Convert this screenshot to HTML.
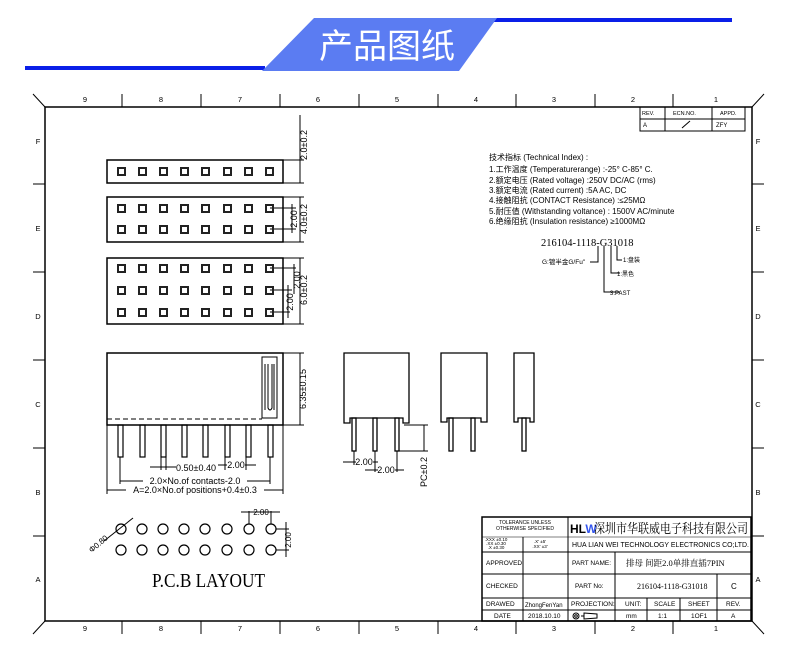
<!DOCTYPE html>
<html><head><meta charset="utf-8"><style>
html,body{margin:0;padding:0;background:#fff;}
svg{display:block;}
text{font-family:"Liberation Sans","Noto Sans CJK SC",sans-serif;fill:#000;}
.s{font-family:"Liberation Serif","Noto Serif CJK SC",serif;}
</style></head><body>
<svg width="790" height="663" viewBox="0 0 790 663" xmlns="http://www.w3.org/2000/svg">
<!-- header -->
<rect x="25" y="66" width="240" height="4" fill="#0a1fe8"/>
<rect x="492" y="18" width="240" height="4" fill="#0a1fe8"/>
<polygon points="314,18 497,18 459,71 262,71" fill="#5b7cf2"/>
<text x="387" y="58" font-size="34" text-anchor="middle" style="fill:#fff;font-family:'Noto Sans CJK SC',sans-serif;">产品图纸</text>

<g stroke="#000" fill="none" stroke-width="1">
<!-- frame -->
<rect x="45" y="107" width="707" height="514" stroke-width="1.5"/>
<line x1="33" y1="94" x2="45" y2="107"/><line x1="764" y1="94" x2="752" y2="107"/>
<line x1="33" y1="634" x2="45" y2="621"/><line x1="764" y1="634" x2="752" y2="621"/>
<g>
<line x1="122" y1="94" x2="122" y2="107"/><line x1="201" y1="94" x2="201" y2="107"/><line x1="280" y1="94" x2="280" y2="107"/><line x1="359" y1="94" x2="359" y2="107"/><line x1="438" y1="94" x2="438" y2="107"/><line x1="516" y1="94" x2="516" y2="107"/><line x1="595" y1="94" x2="595" y2="107"/><line x1="673" y1="94" x2="673" y2="107"/>
<line x1="122" y1="621" x2="122" y2="634"/><line x1="201" y1="621" x2="201" y2="634"/><line x1="280" y1="621" x2="280" y2="634"/><line x1="359" y1="621" x2="359" y2="634"/><line x1="438" y1="621" x2="438" y2="634"/><line x1="516" y1="621" x2="516" y2="634"/><line x1="595" y1="621" x2="595" y2="634"/><line x1="673" y1="621" x2="673" y2="634"/>
<line x1="33" y1="184" x2="45" y2="184"/><line x1="33" y1="272" x2="45" y2="272"/><line x1="33" y1="360" x2="45" y2="360"/><line x1="33" y1="448" x2="45" y2="448"/><line x1="33" y1="536" x2="45" y2="536"/>
<line x1="752" y1="184" x2="764" y2="184"/><line x1="752" y1="272" x2="764" y2="272"/><line x1="752" y1="360" x2="764" y2="360"/><line x1="752" y1="448" x2="764" y2="448"/><line x1="752" y1="536" x2="764" y2="536"/>
</g>
<!-- rev table -->
<rect x="640" y="107" width="105" height="24"/>
<line x1="640" y1="119" x2="745" y2="119"/><line x1="665" y1="107" x2="665" y2="131"/><line x1="712" y1="107" x2="712" y2="131"/>
<line x1="682" y1="128" x2="690" y2="121"/>

<!-- top views -->
<rect x="107" y="160" width="176" height="23" stroke-width="1.5"/>
<line x1="283" y1="160" x2="304" y2="160"/><line x1="283" y1="183" x2="304" y2="183"/>
<line x1="300" y1="115" x2="300" y2="183"/>
<rect x="107" y="197" width="176" height="45" stroke-width="1.5"/>
<line x1="283" y1="197" x2="304" y2="197"/><line x1="283" y1="242" x2="304" y2="242"/>
<line x1="270" y1="208" x2="296" y2="208"/><line x1="270" y1="229" x2="296" y2="229"/>
<line x1="292" y1="204" x2="292" y2="233"/><line x1="300" y1="197" x2="300" y2="242"/>
<rect x="107" y="258" width="176" height="66" stroke-width="1.5"/>
<line x1="283" y1="258" x2="304" y2="258"/><line x1="283" y1="324" x2="304" y2="324"/>
<line x1="270" y1="268" x2="296" y2="268"/><line x1="270" y1="290" x2="292" y2="290"/><line x1="270" y1="312" x2="290" y2="312"/>
<line x1="294" y1="264" x2="294" y2="294"/><line x1="288" y1="285" x2="288" y2="318"/><line x1="300" y1="258" x2="300" y2="324"/>
</g>
<g fill="none" stroke="#222" stroke-width="2">
<g id="r1">
<rect x="118" y="168" width="7" height="7"/><rect x="139" y="168" width="7" height="7"/><rect x="160" y="168" width="7" height="7"/><rect x="181" y="168" width="7" height="7"/><rect x="202" y="168" width="7" height="7"/><rect x="224" y="168" width="7" height="7"/><rect x="245" y="168" width="7" height="7"/><rect x="266" y="168" width="7" height="7"/>
</g>
<use href="#r1" y="37"/><use href="#r1" y="58"/>
<use href="#r1" y="97"/><use href="#r1" y="119"/><use href="#r1" y="141"/>
</g>
<g font-size="9">
<text transform="translate(307,145) rotate(-90)" text-anchor="middle">2.0±0.2</text>
<text transform="translate(297,219) rotate(-90)" text-anchor="middle">2.00</text>
<text transform="translate(307,219) rotate(-90)" text-anchor="middle">4.0±0.2</text>
<text transform="translate(300,280) rotate(-90)" text-anchor="middle">2.00</text>
<text transform="translate(293,302) rotate(-90)" text-anchor="middle">2.00</text>
<text transform="translate(307,290) rotate(-90)" text-anchor="middle">6.0±0.2</text>
</g>

<!-- front view -->
<g stroke="#000" fill="none" stroke-width="1">
<rect x="107" y="353" width="176" height="72" stroke-width="1.5"/>
<line x1="107" y1="419" x2="262" y2="419" stroke-dasharray="5,3"/>
<rect x="262" y="357" width="15" height="61"/>
<path d="M265 364 V410 M268 364 V408 Q270 412 272 408 V364 M274 364 V410"/>
<line x1="283" y1="353" x2="304" y2="353"/><line x1="283" y1="425" x2="304" y2="425"/>
<line x1="300" y1="353" x2="300" y2="425"/>
<g stroke-width="1.2">
<rect x="118" y="425" width="5" height="32"/><rect x="140" y="425" width="5" height="32"/><rect x="161" y="425" width="5" height="32"/><rect x="182" y="425" width="5" height="32"/><rect x="203" y="425" width="5" height="32"/><rect x="225" y="425" width="5" height="32"/><rect x="246" y="425" width="5" height="32"/><rect x="268" y="425" width="5" height="32"/>
</g>
<line x1="120" y1="457" x2="120" y2="484"/><line x1="270" y1="457" x2="270" y2="484"/>
<line x1="120" y1="481" x2="270" y2="481"/>
<line x1="107" y1="425" x2="107" y2="494"/><line x1="283" y1="425" x2="283" y2="494"/>
<line x1="107" y1="490" x2="283" y2="490"/>
<line x1="161" y1="457" x2="161" y2="470"/><line x1="166" y1="457" x2="166" y2="470"/>
<line x1="150" y1="467" x2="176" y2="467"/>
<line x1="225" y1="457" x2="225" y2="470"/><line x1="246" y1="457" x2="246" y2="470"/>
<line x1="218" y1="465" x2="256" y2="465"/>
</g>
<g font-size="9">
<text transform="translate(306,389) rotate(-90)" text-anchor="middle">6.35±0.15</text>
<rect x="178" y="463" width="36" height="9" fill="#fff"/>
<text x="196" y="471" text-anchor="middle">0.50±0.40</text>
<rect x="227" y="460" width="18" height="9" fill="#fff"/>
<text x="236" y="468" text-anchor="middle">2.00</text>
<rect x="143" y="476" width="104" height="9" fill="#fff"/>
<text x="195" y="484" text-anchor="middle">2.0×No.of contacts-2.0</text>
<rect x="126" y="486" width="138" height="9" fill="#fff"/>
<text x="195" y="493" text-anchor="middle">A=2.0×No.of positions+0.4±0.3</text>
</g>

<!-- side views -->
<g stroke="#000" fill="none" stroke-width="1.3">
<path d="M344 423 V353 H409 V423 H403 V418 H350 V423 Z"/>
<rect x="352" y="418" width="4" height="33"/><rect x="373" y="418" width="4" height="33"/><rect x="395" y="418" width="4" height="33"/>
<path d="M441 422 V353 H487 V422 H481 V418 H447 V422 Z"/>
<rect x="449" y="418" width="4" height="33"/><rect x="471" y="418" width="4" height="33"/>
<path d="M514 422 V353 H534 V422 H530 V418 H518 V422 Z"/>
<rect x="522" y="418" width="4" height="33"/>
</g>
<g stroke="#000" stroke-width="1" fill="none">
<line x1="354" y1="451" x2="354" y2="465"/><line x1="375" y1="451" x2="375" y2="472"/><line x1="397" y1="451" x2="397" y2="472"/>
<line x1="343" y1="462" x2="378" y2="462"/><line x1="365" y1="470" x2="404" y2="470"/>
<line x1="404" y1="425" x2="428" y2="425"/><line x1="399" y1="451" x2="428" y2="451"/><line x1="424" y1="425" x2="424" y2="451"/>
</g>
<g font-size="9">
<rect x="356" y="457" width="17" height="9" fill="#fff"/><text x="364" y="465" text-anchor="middle">2.00</text>
<rect x="378" y="465" width="17" height="9" fill="#fff"/><text x="386" y="473" text-anchor="middle">2.00</text>
<text transform="translate(427,472) rotate(-90)" text-anchor="middle">PC±0.2</text>
</g>

<!-- PCB -->
<g stroke="#000" fill="none" stroke-width="1.2">
<g id="c1"><circle cx="121" cy="529" r="5"/><circle cx="142" cy="529" r="5"/><circle cx="163" cy="529" r="5"/><circle cx="184" cy="529" r="5"/><circle cx="205" cy="529" r="5"/><circle cx="227" cy="529" r="5"/><circle cx="249" cy="529" r="5"/><circle cx="271" cy="529" r="5"/></g>
<use href="#c1" y="21"/>
<line x1="104" y1="541" x2="133" y2="518" stroke-width="1"/>
<line x1="249" y1="511" x2="249" y2="524" stroke-width="1"/><line x1="271" y1="511" x2="271" y2="524" stroke-width="1"/>
<line x1="241" y1="512" x2="280" y2="512" stroke-width="1"/>
<line x1="276" y1="529" x2="289" y2="529" stroke-width="1"/><line x1="276" y1="550" x2="289" y2="550" stroke-width="1"/>
<line x1="286" y1="522" x2="286" y2="557" stroke-width="1"/>
</g>
<g font-size="8">
<text transform="translate(100,546) rotate(-40)" text-anchor="middle">Φ0.80</text>
<text x="261" y="515" text-anchor="middle">2.00</text>
<text transform="translate(291,540) rotate(-90)" text-anchor="middle">2.00</text>
</g>
<text x="152" y="587" class="s" font-size="20" textLength="113" lengthAdjust="spacingAndGlyphs">P.C.B LAYOUT</text>

<!-- tech index -->
<g font-size="8">
<text x="489" y="160">技术指标 (Technical Index) :</text>
<text x="489" y="172">1.工作温度 (Temperaturerange) :-25° C-85° C.</text>
<text x="489" y="183">2.额定电压 (Rated voltage) :250V DC/AC (rms)</text>
<text x="489" y="193">3.额定电流 (Rated current) :5A AC, DC</text>
<text x="489" y="203">4.接触阻抗 (CONTACT Resistance) :≤25MΩ</text>
<text x="489" y="214">5.耐压值 (Withstanding voltance) : 1500V AC/minute</text>
<text x="489" y="224">6.绝缘阻抗 (Insulation resistance) ≥1000MΩ</text>
<text x="541" y="246" font-size="10.5" class="s">216104-1118-G31018</text>
<text x="542" y="264" font-size="6.5">G:镀半金G/Fu"</text>
<text x="623" y="262" font-size="6">1:盘装</text>
<text x="617" y="276" font-size="6">1:黑色</text>
<text x="610" y="295" font-size="6">3:PAST</text>
</g>
<g stroke="#000" fill="none" stroke-width="1">
<path d="M598 246 V262 H590"/><path d="M604 246 V292 H620"/><path d="M611 246 V273 H620"/><path d="M617 246 V260 H622"/>
</g>

<!-- title block -->
<g stroke="#000" fill="none" stroke-width="1">
<rect x="482" y="517" width="269" height="104" stroke-width="1.5"/>
<line x1="482" y1="537" x2="751" y2="537" stroke-width="0.6"/>
<line x1="482" y1="552" x2="751" y2="552"/>
<line x1="482" y1="574" x2="751" y2="574"/>
<line x1="482" y1="598" x2="751" y2="598"/>
<line x1="482" y1="610" x2="751" y2="610"/>
<line x1="568" y1="517" x2="568" y2="621"/>
<line x1="523" y1="537" x2="523" y2="621"/>
<line x1="615" y1="552" x2="615" y2="621"/>
<line x1="647" y1="598" x2="647" y2="621"/><line x1="680" y1="598" x2="680" y2="621"/>
<line x1="717" y1="574" x2="717" y2="621"/>
<circle cx="576" cy="616" r="3"/><circle cx="576" cy="616" r="1.3"/><path d="M581 616 H584 M584 613 L597 614 V618 L584 619 Z"/>
</g>
<g font-size="5" text-anchor="middle">
<text x="525" y="524">TOLERANCE UNLESS</text><text x="525" y="530">OTHERWISE SPECIFIED</text>
<text x="496" y="541" font-size="4.5">.XXX ±0.10</text><text x="496" y="545" font-size="4.5">.XX ±0.30</text><text x="496" y="549" font-size="4.5">.X ±0.30</text>
<text x="540" y="543" font-size="4.5">.X' ±5'</text><text x="540" y="548" font-size="4.5">.XX' ±3'</text>
</g>
<g font-size="6.5">
<text x="486" y="565">APPROVED</text><text x="486" y="588">CHECKED</text>
<text x="486" y="606">DRAWED</text><text x="494" y="618">DATE</text>
<text x="572" y="565">PART NAME:</text><text x="575" y="588">PART No:</text>
<text x="571" y="606">PROJECTION:</text>
<text x="525" y="607" font-size="6">ZhongFenYan</text><text x="528" y="618">2018.10.10</text>
<text x="625" y="606">UNIT:</text><text x="654" y="606">SCALE</text><text x="688" y="606">SHEET</text><text x="726" y="606">REV.</text>
<text x="626" y="618">mm</text><text x="658" y="618">1:1</text><text x="691" y="618">1OF1</text><text x="731" y="618">A</text>
<text x="731" y="589" font-size="8">C</text>
<text x="572" y="547" font-size="7" textLength="177" lengthAdjust="spacingAndGlyphs">HUA LIAN WEI TECHNOLOGY ELECTRONICS CO;LTD.</text>
<text x="642" y="115" font-size="5.5">REV.</text><text x="673" y="115" font-size="5.5">ECN.NO.</text><text x="720" y="115" font-size="5.5">APPD.</text>
<text x="643" y="127" font-size="6">A</text><text x="716" y="127" font-size="6">ZFY</text>
</g>
<text x="570" y="533" font-size="12" font-weight="bold">HL<tspan style="fill:#3355ee">W</tspan></text>
<text x="594" y="533" font-size="13" class="s" textLength="154" lengthAdjust="spacingAndGlyphs">深圳市华联威电子科技有限公司</text>
<text x="626" y="566" font-size="8.5" class="s">排母 间距2.0单排直插7PIN</text>
<text x="637" y="589" font-size="8" class="s">216104-1118-G31018</text>

<!-- frame labels -->
<g font-size="7.5" text-anchor="middle">
<text x="85" y="102">9</text><text x="161" y="102">8</text><text x="240" y="102">7</text><text x="318" y="102">6</text><text x="397" y="102">5</text><text x="476" y="102">4</text><text x="554" y="102">3</text><text x="633" y="102">2</text><text x="716" y="102">1</text>
<text x="85" y="631">9</text><text x="161" y="631">8</text><text x="240" y="631">7</text><text x="318" y="631">6</text><text x="397" y="631">5</text><text x="476" y="631">4</text><text x="554" y="631">3</text><text x="633" y="631">2</text><text x="716" y="631">1</text>
<text x="38" y="144">F</text><text x="38" y="231">E</text><text x="38" y="319">D</text><text x="38" y="407">C</text><text x="38" y="495">B</text><text x="38" y="582">A</text>
<text x="758" y="144">F</text><text x="758" y="231">E</text><text x="758" y="319">D</text><text x="758" y="407">C</text><text x="758" y="495">B</text><text x="758" y="582">A</text>
</g>
</svg>
</body></html>
